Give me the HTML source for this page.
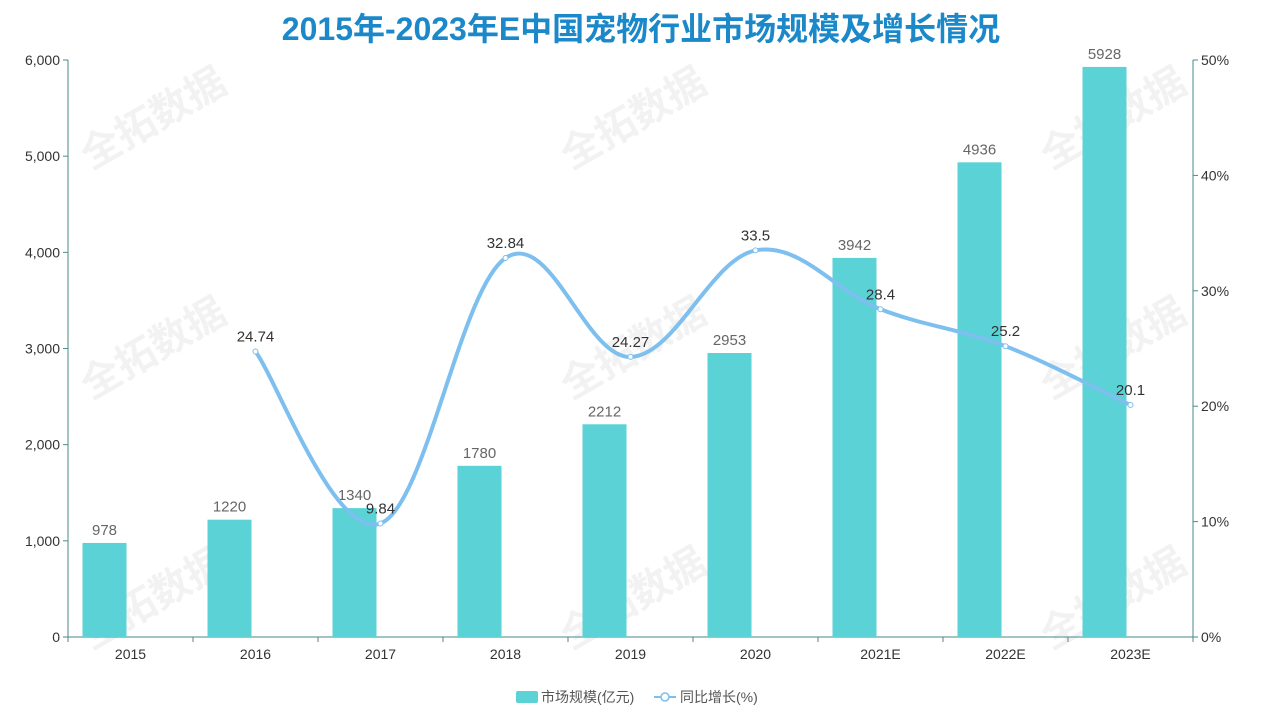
<!DOCTYPE html>
<html><head><meta charset="utf-8">
<style>
body{margin:0;background:#fff;}
svg{display:block;font-family:"Liberation Sans","Noto Sans CJK SC",sans-serif;}
</style></head>
<body>
<svg id="chart" width="1283" height="722" viewBox="0 0 1283 722">
<text x="641" y="40" text-anchor="middle" font-size="32" font-weight="bold" fill="#1a88c9" font-family="Liberation Sans,Noto Sans CJK SC,sans-serif">2015年-2023年E中国宠物行业市场规模及增长情况</text>
<g id="wm"></g>
<g id="axes"></g>
<g id="bars"></g>
<g id="line"></g>
<g>
<rect x="516" y="691" width="22" height="12" rx="2" fill="#5ad2d6"/>
<text x="541" y="702" font-size="14" fill="#555">市场规模(亿元)</text>
<line x1="654" y1="697" x2="676" y2="697" stroke="#7dbfee" stroke-width="2"/>
<circle cx="665" cy="697" r="4" fill="#fff" stroke="#7dbfee" stroke-width="1.5"/>
<text x="680" y="702" font-size="14" fill="#555">同比增长(%)</text>
</g>
</svg>
<script>
const categories=["2015","2016","2017","2018","2019","2020","2021E","2022E","2023E"];
const marketSize=[978,1220,1340,1780,2212,2953,3942,4936,5928];
const growth=[null,24.74,9.84,32.84,24.27,33.5,28.4,25.2,20.1];
const leftTicks=[0,1000,2000,3000,4000,5000,6000];
const leftTickLabels=["0","1,000","2,000","3,000","4,000","5,000","6,000"];
const rightTicks=[0,10,20,30,40,50];
const rightTickLabels=["0%","10%","20%","30%","40%","50%"];

const NS="http://www.w3.org/2000/svg";
const X0=68,X1=1193,Y0=637,Y1=60;
const band=(X1-X0)/categories.length;
const xc=i=>X0+band*(i+0.5);
const yL=v=>Y0-(v/6000)*(Y0-Y1);
const yR=v=>Y0-(v/50)*(Y0-Y1);
function mk(tag,attrs,parent,text){const e=document.createElementNS(NS,tag);for(const k in attrs)e.setAttribute(k,attrs[k]);if(text!=null)e.textContent=text;parent.appendChild(e);return e;}

const wm=document.getElementById('wm');
[[160,130],[640,130],[1120,130],[160,360],[640,360],[1120,360],[160,610],[640,610],[1120,610]].forEach(p=>{
 const t=mk('text',{x:p[0],y:p[1],'font-size':40,'font-weight':'bold',fill:'#000','fill-opacity':0.05,'text-anchor':'middle',transform:`rotate(-30 ${p[0]} ${p[1]})`},wm,'全拓数据');
 
 
});

const ax=document.getElementById('axes');
let e;
e=mk('line',{x1:X0,y1:Y1,x2:X0,y2:Y0,stroke:'#4a8a8a'},ax);

e=mk('line',{x1:X1,y1:Y1,x2:X1,y2:Y0,stroke:'#4a8a8a'},ax);

e=mk('line',{x1:X0,y1:Y0,x2:X1,y2:Y0,stroke:'#4a8a8a'},ax);

leftTicks.forEach((v,i)=>{
 mk('line',{x1:X0-5,y1:yL(v),x2:X0,y2:yL(v),stroke:'#4a8a8a'},ax);
 e=mk('text',{x:X0-8,y:yL(v)+5,'text-anchor':'end','font-size':14,fill:'#333'},ax,leftTickLabels[i]);
 
});
rightTicks.forEach((v,i)=>{
 mk('line',{x1:X1,y1:yR(v),x2:X1+5,y2:yR(v),stroke:'#4a8a8a'},ax);
 e=mk('text',{x:X1+8,y:yR(v)+5,'font-size':14,fill:'#333'},ax,rightTickLabels[i]);
 
});
categories.forEach((c,i)=>{
 mk('line',{x1:X0+band*i,y1:Y0,x2:X0+band*i,y2:Y0+5,stroke:'#4a8a8a'},ax);
 e=mk('text',{x:xc(i),y:Y0+22,'text-anchor':'middle','font-size':14,fill:'#333'},ax,c);
 
});
mk('line',{x1:X1,y1:Y0,x2:X1,y2:Y0+5,stroke:'#4a8a8a'},ax);

const bg=document.getElementById('bars');
marketSize.forEach((v,i)=>{
 const cx=xc(i)-26,w=44;
 e=mk('rect',{x:cx-w/2,y:yL(v),width:w,height:Y0-yL(v),fill:'#5ad2d6'},bg);
 
 e=mk('text',{x:cx,y:yL(v)-8,'text-anchor':'middle','font-size':15,fill:'#666'},bg,String(v));
 
});

const lg=document.getElementById('line');
const pts=[];growth.forEach((v,i)=>{if(v!=null)pts.push([xc(i),yR(v),v]);});
let d=`M${pts[0][0]},${pts[0][1]}`;
const t=0.18;
for(let i=0;i<pts.length-1;i++){
 const p0=pts[i-1]||pts[i],p1=pts[i],p2=pts[i+1],p3=pts[i+2]||p2;
 const c1=[p1[0]+(p2[0]-p0[0])*t,p1[1]+(p2[1]-p0[1])*t];
 const c2=[p2[0]-(p3[0]-p1[0])*t,p2[1]-(p3[1]-p1[1])*t];
 d+=` C${c1[0]},${c1[1]} ${c2[0]},${c2[1]} ${p2[0]},${p2[1]}`;
}
e=mk('path',{d:d,fill:'none',stroke:'#7dbfee','stroke-width':4,'stroke-linecap':'round'},lg);

pts.forEach(p=>{
 e=mk('circle',{cx:p[0],cy:p[1],r:2.5,fill:'#fff',stroke:'#7dbfee','stroke-width':1},lg);
 
 e=mk('text',{x:p[0],y:p[1]-10,'text-anchor':'middle','font-size':15,fill:'#333'},lg,String(p[2]));
 
});
</script>
</body></html>
